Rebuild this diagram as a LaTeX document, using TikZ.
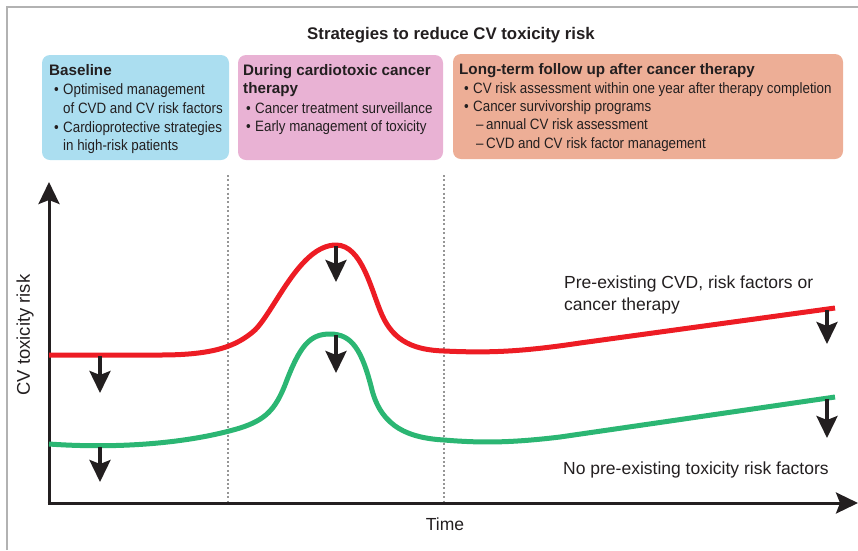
\documentclass[tikz,border=0pt]{standalone}
\usepackage{fontspec}
\setmainfont{Liberation Sans}
\newfontfamily\condfont[FakeStretch=0.89,Ligatures=TeX]{Liberation Sans}
\usetikzlibrary{arrows.meta}

\definecolor{ink}{RGB}{35,31,32}
\definecolor{frame}{RGB}{178,178,178}
\definecolor{dotgrey}{RGB}{150,150,150}
\definecolor{boxblue}{RGB}{171,222,240}
\definecolor{boxpink}{RGB}{233,178,212}
\definecolor{boxsalmon}{RGB}{237,174,150}
\definecolor{riskred}{RGB}{237,28,36}
\definecolor{riskgreen}{RGB}{43,182,115}

\tikzset{
  panel/.style={rounded corners=8pt, draw=none},
  head/.style={anchor=base west, inner sep=0, text=ink,
    font=\fontsize{15.2}{18}\selectfont\bfseries},
  body/.style={anchor=base west, inner sep=0, text=ink,
    font=\condfont\fontsize{15}{18}\selectfont},
  lbl/.style={inner sep=0, text=ink, font=\fontsize{17.5}{21}\selectfont},
  bigtip/.style={-{Stealth[length=22pt 0 0,width=21pt 0,inset=4pt 0]}},
  axis/.style={ink, line width=3pt, bigtip},
  drop/.style={ink, line width=3.6pt, bigtip},
  phase/.style={dotgrey, line width=2.2pt, dash pattern=on 2pt off 2.4pt},
  curve/.style={line width=5pt, line cap=butt}
}

\begin{document}
\begin{tikzpicture}[x=1pt,y=-1pt]
\useasboundingbox (0,0) rectangle (858,550);

% outer frame (top and left edges)
\draw[frame, line width=1.5pt] (7,550) -- (7,7) -- (858,7);

% title
\node[inner sep=0, text=ink, font=\fontsize{16.8}{20}\selectfont\bfseries]
  (title) at (451,35) {Strategies to reduce CV toxicity risk};

% phase panels
\fill[panel, boxblue]   (42,55)  rectangle (229,160);
\fill[panel, boxpink]   (238,55) rectangle (443,160);
\fill[panel, boxsalmon] (453,54) rectangle (843,159);

% panel 1: baseline
\node[head] (b0) at (49,75)  {Baseline};
\node[body] (b1) at (54,94)  {\textbullet};
\node[body] (b2) at (63,94)  {Optimised management};
\node[body] (b3) at (63,113) {of CVD and CV risk factors};
\node[body] (b4) at (54,132) {\textbullet};
\node[body] (b5) at (63,132) {Cardioprotective strategies};
\node[body] (b6) at (63,150) {in high-risk patients};

% panel 2: during therapy
\node[head] (d0) at (243,75)  {During cardiotoxic cancer};
\node[head] (d1) at (243,93.5){therapy};
\node[body] (d2) at (246,113) {\textbullet};
\node[body] (d3) at (255,113) {Cancer treatment surveillance};
\node[body] (d4) at (246,131) {\textbullet};
\node[body] (d5) at (255,131) {Early management of toxicity};

% panel 3: long-term follow up
\node[head] (l0) at (459,74.5) {Long-term follow up after cancer therapy};
\node[body] (l1) at (464,93)   {\textbullet};
\node[body] (l2) at (473,93)   {CV risk assessment within one year after therapy completion};
\node[body] (l3) at (464,111)  {\textbullet};
\node[body] (l4) at (473,111)  {Cancer survivorship programs};
\node[body] (l5) at (476,129.5){\textendash};
\node[body] (l6) at (486,129.5){annual CV risk assessment};
\node[body] (l7) at (476,148)  {\textendash};
\node[body] (l8) at (486,148)  {CVD and CV risk factor management};

% phase boundaries
\coordinate (p1t) at (228,175); \coordinate (p1b) at (228,502);
\coordinate (p2t) at (444,175); \coordinate (p2b) at (444,502);
\draw[phase] (p1t) -- (p1b);
\draw[phase] (p2t) -- (p2b);

% axes
\coordinate (origin) at (49,503);
\coordinate (ytip) at (49,182);
\coordinate (xtip) at (858,503);
\draw[axis] ([yshift=1.5pt]origin) -- (ytip);
\draw[axis] ([xshift=-1.5pt]origin) -- (xtip);

\node[lbl, rotate=90, font=\fontsize{18.4}{22}\selectfont] (ylab) at (25,335) {CV toxicity risk};
\node[lbl] (xlab) at (445,524) {Time};

% risk trajectory with pre-existing risk
\draw[curve, riskred]
  (49,355) -- (160,355)
  .. controls (212,355) and (236,347) .. (255,330)
  .. controls (275,310) and (300,245) .. (336,245)
  .. controls (362,245) and (371,290) .. (382,315)
  .. controls (394,342) and (415,350) .. (444,351)
  .. controls (488,353) and (520,352) .. (580,343)
  -- (835,308);

% risk trajectory without pre-existing risk
\draw[curve, riskgreen]
  (49,444)
  .. controls (120,449) and (190,443) .. (240,428)
  .. controls (265,420) and (275,410) .. (285,385)
  .. controls (300,345) and (310,334) .. (330,334)
  .. controls (352,334) and (362,350) .. (372,390)
  .. controls (382,428) and (410,438) .. (444,440)
  .. controls (480,443) and (510,443) .. (560,437)
  -- (835,397);

% risk reduction arrows
\coordinate (r1) at (100,356); \coordinate (r1e) at (100,393);
\coordinate (g1) at (100,447); \coordinate (g1e) at (100,482);
\coordinate (r2) at (336,246); \coordinate (r2e) at (336,282);
\coordinate (g2) at (336,335); \coordinate (g2e) at (336,373);
\coordinate (r3) at (827,310); \coordinate (r3e) at (827,344);
\coordinate (g3) at (827,399); \coordinate (g3e) at (827,438);
\draw[drop] (r1) -- (r1e);
\draw[drop] (g1) -- (g1e);
\draw[drop] (r2) -- (r2e);
\draw[drop] (g2) -- (g2e);
\draw[drop] (r3) -- (r3e);
\draw[drop] (g3) -- (g3e);

% curve labels
\node[lbl, anchor=base west] (redlab1) at (564,288) {Pre-existing CVD, risk factors or};
\node[lbl, anchor=base west] (redlab2) at (564,310) {cancer therapy};
\node[lbl, anchor=base west] (greenlab) at (563,474) {No pre-existing toxicity risk factors};
\end{tikzpicture}
\end{document}
